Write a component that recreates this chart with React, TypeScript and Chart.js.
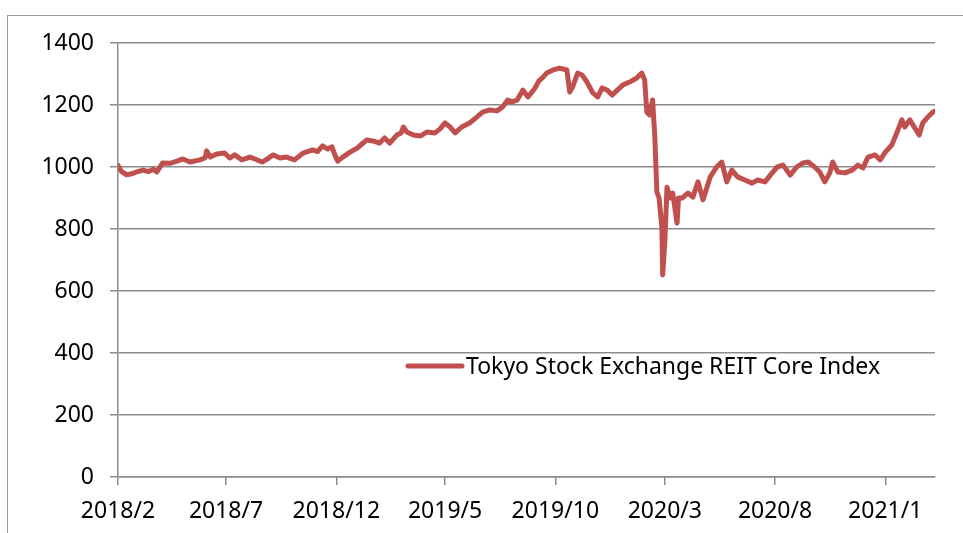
import React, { useEffect, useRef } from "react";
import { Chart, registerables } from "chart.js";

Chart.register(...registerables);

const seriesLabel = "Tokyo Stock Exchange REIT Core Index";

const dates = [
  "2018-02-01", "2018-02-06", "2018-02-13", "2018-02-20", "2018-02-27", "2018-03-08", "2018-03-15", "2018-03-22",
  "2018-03-27", "2018-04-04", "2018-04-14", "2018-04-24", "2018-05-02", "2018-05-12", "2018-05-26", "2018-06-02",
  "2018-06-04", "2018-06-09", "2018-06-18", "2018-06-29", "2018-07-06", "2018-07-13", "2018-07-23", "2018-08-03",
  "2018-08-11", "2018-08-20", "2018-08-28", "2018-09-04", "2018-09-14", "2018-09-23", "2018-10-04", "2018-10-16",
  "2018-10-29", "2018-11-05", "2018-11-12", "2018-11-19", "2018-11-25", "2018-11-29", "2018-12-03", "2018-12-10",
  "2018-12-20", "2018-12-30", "2019-01-06", "2019-01-12", "2019-01-21", "2019-01-30", "2019-02-06", "2019-02-13",
  "2019-02-23", "2019-03-01", "2019-03-04", "2019-03-09", "2019-03-18", "2019-03-28", "2019-04-06", "2019-04-17",
  "2019-04-24", "2019-05-01", "2019-05-08", "2019-05-15", "2019-05-24", "2019-06-04", "2019-06-14", "2019-06-22",
  "2019-07-02", "2019-07-12", "2019-07-20", "2019-07-27", "2019-08-02", "2019-08-09", "2019-08-17", "2019-08-24",
  "2019-09-03", "2019-09-08", "2019-09-14", "2019-09-19", "2019-09-28", "2019-10-07", "2019-10-17", "2019-10-21",
  "2019-10-25", "2019-11-01", "2019-11-07", "2019-11-14", "2019-11-22", "2019-11-29", "2019-12-05", "2019-12-12",
  "2019-12-19", "2019-12-26", "2020-01-03", "2020-01-12", "2020-01-22", "2020-01-29", "2020-02-02", "2020-02-05",
  "2020-02-09", "2020-02-13", "2020-02-16", "2020-02-19", "2020-02-22", "2020-02-26", "2020-02-27", "2020-03-01",
  "2020-03-04", "2020-03-08", "2020-03-12", "2020-03-18", "2020-03-20", "2020-03-25", "2020-04-02", "2020-04-09",
  "2020-04-16", "2020-04-23", "2020-05-03", "2020-05-12", "2020-05-19", "2020-05-26", "2020-06-02", "2020-06-10",
  "2020-06-20", "2020-06-30", "2020-07-08", "2020-07-18", "2020-07-28", "2020-08-04", "2020-08-12", "2020-08-22",
  "2020-08-31", "2020-09-09", "2020-09-16", "2020-09-25", "2020-10-02", "2020-10-09", "2020-10-16", "2020-10-20",
  "2020-10-27", "2020-11-06", "2020-11-16", "2020-11-24", "2020-12-01", "2020-12-08", "2020-12-18", "2020-12-25",
  "2021-01-01", "2021-01-10", "2021-01-17", "2021-01-24", "2021-01-28", "2021-02-04", "2021-02-11", "2021-02-17",
  "2021-02-22", "2021-03-01", "2021-03-08", "2021-03-11",
];

const values = [
  1005, 985, 975, 978, 984, 990, 985, 993,
  984, 1013, 1012, 1019, 1026, 1016, 1023, 1030,
  1052, 1032, 1042, 1045, 1029, 1039, 1023, 1032,
  1025, 1016, 1027, 1039, 1029, 1032, 1023, 1045,
  1055, 1050, 1068, 1058, 1065, 1039, 1019, 1032,
  1048, 1061, 1075, 1087, 1084, 1077, 1094, 1077,
  1103, 1110, 1129, 1113, 1103, 1100, 1113, 1110,
  1123, 1142, 1129, 1110, 1129, 1142, 1161, 1177,
  1184, 1181, 1194, 1216, 1210, 1216, 1248, 1226,
  1255, 1277, 1290, 1303, 1313, 1319, 1313, 1242,
  1258, 1303, 1297, 1274, 1239, 1226, 1255, 1248,
  1232, 1248, 1265, 1274, 1287, 1303, 1281, 1177,
  1168, 1216, 1103, 919, 900, 803, 652, 758,
  935, 900, 916, 819, 900, 900, 916, 903,
  952, 894, 968, 1000, 1016, 952, 990, 968,
  958, 948, 958, 952, 981, 1000, 1006, 974,
  1000, 1013, 1016, 1000, 984, 952, 981, 1016,
  984, 981, 990, 1006, 997, 1032, 1039, 1023,
  1048, 1071, 1110, 1152, 1129, 1152, 1126, 1103,
  1142, 1161, 1177, 1180,
];

const tickLabels = ["2018/2", "2018/7", "2018/12", "2019/5", "2019/10", "2020/3", "2020/8", "2021/1"];
const yMin = 0;
const yMax = 1400;
const yStep = 200;

const BASE = Date.UTC(2018, 1, 1);
const dayOf = (y: number, m: number, d: number) => (Date.UTC(y, m - 1, d) - BASE) / 86400000;
const dayOfDate = (s: string) => {
  const [y, m, d] = s.split("-").map(Number);
  return dayOf(y, m, d);
};
const dayOfLabel = (s: string) => {
  const [y, m] = s.split("/").map(Number);
  return dayOf(y, m, 1);
};

const LINE_COLOR = "#C0504D";
const GRID_COLOR = "#8c8c8c";
const FONT = "'Noto Sans', sans-serif";

const legendPlugin = {
  id: "insideLegend",
  afterDraw(chart: any) {
    const { ctx, chartArea } = chart;
    const ds = chart.data.datasets[0];
    const y = chartArea.top + 323;
    const x0 = chartArea.left + 290;
    ctx.save();
    ctx.strokeStyle = ds.borderColor;
    ctx.lineWidth = 5;
    ctx.lineCap = "round";
    ctx.beginPath();
    ctx.moveTo(x0, y);
    ctx.lineTo(x0 + 54, y);
    ctx.stroke();
    ctx.fillStyle = "#000";
    ctx.font = `23px ${FONT}`;
    ctx.textBaseline = "middle";
    ctx.textAlign = "left";
    ctx.fillText(ds.label, x0 + 58, y + 1);
    ctx.restore();
  },
};

export default function App() {
  const ref = useRef<HTMLCanvasElement | null>(null);
  useEffect(() => {
    if (!ref.current) return;
    const labelDays = tickLabels.map(dayOfLabel);
    const chart = new Chart(ref.current, {
      type: "line",
      data: {
        datasets: [
          {
            label: seriesLabel,
            data: dates.map((d, i) => ({ x: dayOfDate(d), y: values[i] })),
            borderColor: LINE_COLOR,
            backgroundColor: LINE_COLOR,
            borderWidth: 5,
            pointRadius: 0,
            tension: 0,
            borderJoinStyle: "round",
            borderCapStyle: "round",
          },
        ],
      },
      options: {
        animation: false,
        responsive: false,
        layout: { padding: { top: 43, right: 28, bottom: 0, left: 0 } },
        plugins: { legend: { display: false }, tooltip: { enabled: false } },
        scales: {
          x: {
            type: "linear",
            min: 0,
            max: dayOfDate(dates[dates.length - 1]),
            afterBuildTicks: (scale: any) => {
              scale.ticks = labelDays.map((v) => ({ value: v }));
            },
            afterFit: (scale: any) => {
              scale.height = 56;
            },
            ticks: {
              autoSkip: false,
              maxRotation: 0,
              padding: 13,
              color: "#000",
              font: { family: FONT, size: 23 },
              callback: (v: any) => {
                const i = labelDays.indexOf(v);
                return i >= 0 ? tickLabels[i] : "";
              },
            },
            grid: { drawOnChartArea: false, drawTicks: true, tickLength: 8, color: GRID_COLOR, lineWidth: 1.5 },
            border: { display: true, color: GRID_COLOR, width: 1.5 },
          },
          y: {
            min: yMin,
            max: yMax,
            afterFit: (scale: any) => {
              scale.width = 118;
            },
            ticks: {
              stepSize: yStep,
              padding: 16,
              color: "#000",
              font: { family: FONT, size: 23 },
              callback: (v: any) => String(v),
            },
            grid: { drawOnChartArea: true, drawTicks: true, tickLength: 8, color: GRID_COLOR, lineWidth: 1.5 },
            border: { display: true, color: GRID_COLOR, width: 1.5 },
          },
        },
      },
      plugins: [legendPlugin],
    } as any);
    return () => chart.destroy();
  }, []);

  return (
    <div style={{ position: "fixed", left: 0, top: 0, width: 963, height: 533, overflow: "hidden", background: "#fff" }}>
      <div
        style={{
          position: "absolute",
          left: 7,
          top: 15,
          width: 1000,
          height: 600,
          borderLeft: "1.5px solid #9a9a9a",
          borderTop: "1.5px solid #9a9a9a",
        }}
      />
      <canvas ref={ref} width={963} height={533} style={{ position: "absolute", left: 0, top: 0 }} />
    </div>
  );
}
